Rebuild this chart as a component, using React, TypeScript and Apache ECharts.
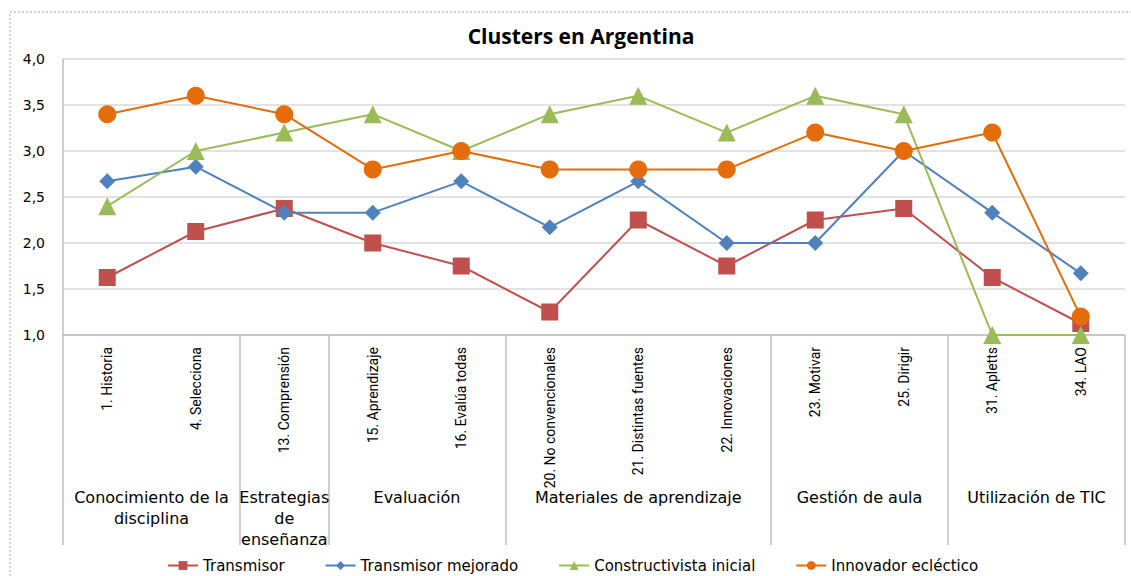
import React, { useEffect, useRef } from "react";
import * as echarts from "echarts";

const categories = [
  "1. Historia",
  "4. Selecciona",
  "13. Comprensión",
  "15. Aprendizaje",
  "16. Evalúa todas",
  "20. No convencionales",
  "21. Distintas fuentes",
  "22. Innovaciones",
  "23. Motivar",
  "25. Dirigir",
  "31. Apletts",
  "34. LAO",
];

const groupNames = [
  "Conocimiento de la\ndisciplina",
  "Estrategias\nde\nenseñanza",
  "Evaluación",
  "Materiales de aprendizaje",
  "Gestión de aula",
  "Utilización de TIC",
];
const groupSpans = [2, 1, 2, 3, 2, 2];

const transmisor = [1.625, 2.125, 2.375, 2.0, 1.75, 1.25, 2.25, 1.75, 2.25, 2.375, 1.625, 1.125];
const transmisorMejorado = [2.67, 2.83, 2.33, 2.33, 2.67, 2.17, 2.67, 2.0, 2.0, 3.0, 2.33, 1.67];
const constructivista = [2.4, 3.0, 3.2, 3.4, 3.0, 3.4, 3.6, 3.2, 3.6, 3.4, 1.0, 1.0];
const innovador = [3.4, 3.6, 3.4, 2.8, 3.0, 2.8, 2.8, 2.8, 3.2, 3.0, 3.2, 1.2];

const yTicks = { min: 1, max: 4, interval: 0.5 };

export default function App() {
  const ref = useRef<HTMLDivElement>(null);
  useEffect(() => {
    if (!ref.current) return;
    const chart = echarts.init(ref.current, undefined, { renderer: "svg" });

    const boundaries: number[] = [0];
    const centers: number[] = [];
    let acc = 0;
    groupSpans.forEach((s) => {
      centers.push(acc + s / 2);
      acc += s;
      boundaries.push(acc);
    });

    const gray = "#BFBFBF";
    const gridGray = "#D9D9D9";

    chart.setOption({
      animation: false,
      title: {
        text: "Clusters en Argentina",
        left: 576,
        textAlign: "center",
        top: 20,
        textStyle: {
          fontFamily: "Open Sans",
          fontWeight: "bold",
          fontSize: 21,
          color: "#000",
        },
      },
      graphic: [
        {
          type: "rect",
          shape: { x: 10, y: 12, width: 1200, height: 700 },
          style: { fill: "none", stroke: "#A6A6A6", lineWidth: 1, lineDash: [2, 2] },
          silent: true,
        },
      ],
      legend: {
        top: 553,
        left: 162,
        itemWidth: 30,
        itemHeight: 11,
        itemGap: 40,
        textStyle: { fontFamily: "DejaVu Sans", fontSize: 15, color: "#000" },
        data: ["Transmisor", "Transmisor mejorado", "Constructivista inicial", "Innovador ecléctico"],
      },
      grid: { left: 63, right: 6, top: 59, bottom: 241, containLabel: false },
      xAxis: [
        {
          type: "category",
          data: categories,
          boundaryGap: true,
          axisLine: { show: true, lineStyle: { color: gray, width: 1.5 } },
          axisTick: { show: false },
          axisLabel: {
            rotate: 90,
            margin: 12,
            interval: 0,
            fontFamily: "Roboto",
            fontSize: 14,
            color: "#000",
          },
          splitLine: { show: false },
        },
        {
          type: "value",
          min: 0,
          max: categories.length,
          position: "bottom",
          axisLine: { show: false },
          splitLine: { show: false },
          axisTick: {
            show: true,
            customValues: boundaries,
            length: 210,
            lineStyle: { color: gray, width: 1.5 },
          },
          axisLabel: {
            show: true,
            customValues: centers,
            margin: 152,
            fontFamily: "DejaVu Sans",
            fontSize: 16,
            lineHeight: 21,
            color: "#000",
            verticalAlign: "top",
            formatter: (v: number) => {
              const i = centers.findIndex((c) => Math.abs(c - v) < 1e-6);
              return i >= 0 ? groupNames[i] : "";
            },
          },
        },
      ],
      yAxis: {
        type: "value",
        min: yTicks.min,
        max: yTicks.max,
        interval: yTicks.interval,
        axisLine: { show: true, lineStyle: { color: gray, width: 1.5 } },
        axisTick: { show: false },
        splitLine: { show: true, lineStyle: { color: gridGray, width: 1.5 } },
        axisLabel: {
          margin: 18,
          fontFamily: "DejaVu Sans",
          fontSize: 14,
          color: "#000",
          formatter: (v: number) => v.toFixed(1).replace(".", ","),
        },
      },
      series: [
        {
          name: "Transmisor",
          type: "line",
          data: transmisor,
          symbol: "rect",
          symbolSize: 17,
          itemStyle: { color: "#C0504D" },
          lineStyle: { color: "#C0504D", width: 2 },
        },
        {
          name: "Transmisor mejorado",
          type: "line",
          data: transmisorMejorado,
          symbol: "diamond",
          symbolSize: 16,
          itemStyle: { color: "#4F81BD" },
          lineStyle: { color: "#4F81BD", width: 2 },
        },
        {
          name: "Constructivista inicial",
          type: "line",
          data: constructivista,
          symbol: "triangle",
          symbolSize: 18,
          itemStyle: { color: "#9BBB59" },
          lineStyle: { color: "#9BBB59", width: 2 },
        },
        {
          name: "Innovador ecléctico",
          type: "line",
          data: innovador,
          symbol: "circle",
          symbolSize: 18,
          itemStyle: { color: "#E46C0A" },
          lineStyle: { color: "#E46C0A", width: 2 },
        },
      ],
    });
    return () => chart.dispose();
  }, []);
  return (
    <div
      ref={ref}
      style={{ position: "absolute", left: 0, top: 0, width: 1131, height: 576, background: "#fff" }}
    />
  );
}
